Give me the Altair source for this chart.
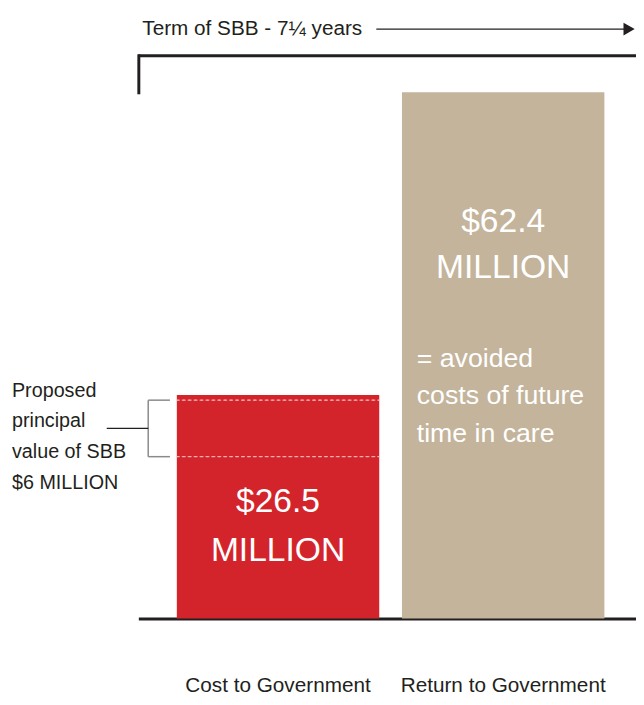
import altair as alt
import pandas as pd

# ---- data ----
categories = ["Cost to Government", "Return to Government"]
values = [26.5, 62.4]
value_labels = ["$26.5", "$62.4"]
unit_label = "MILLION"
bar_colors = ["#D4242B", "#C3B49B"]
principal_levels = [25.9, 19.2]          # dashed band marking the $6M principal
principal_text = ["Proposed", "principal", "value of SBB", "$6 MILLION"]
return_note = ["= avoided", "costs of future", "time in care"]
term_text = "Term of SBB - 7\u00bc years"
y_max = 66.73

DARK = "#231F20"
GRAY = "#8A8A8A"
FONT = "Liberation Sans, Arial, Helvetica, sans-serif"

bars_df = pd.DataFrame({"category": categories, "value": values, "color": bar_colors})
dash_df = pd.DataFrame({"category": [categories[0]] * len(principal_levels), "value": principal_levels})
bracket_df = pd.DataFrame({"value": principal_levels})
span_df = pd.DataFrame({"top": [principal_levels[0]], "bottom": [principal_levels[1]],
                        "mid": [sum(principal_levels) / len(principal_levels)]})
one = pd.DataFrame({"k": [0]})

xscale = alt.Scale(domain=categories, paddingInner=0.1009, paddingOuter=0.1557, align=0.549)
yscale = alt.Scale(domain=[0, y_max], nice=False, zero=True)

x_axis = alt.Axis(title=None, ticks=False, tickSize=0, labelPadding=74,
                  labelBaseline="alphabetic", labelFontSize=21, labelColor=DARK,
                  labelAngle=0, labelLimit=400, labelFont=FONT,
                  domainColor=DARK, domainWidth=3, grid=False)
X = alt.X("category:N", scale=xscale, sort=categories, axis=x_axis)
Y = alt.Y("value:Q", scale=yscale, axis=None)

bars = alt.Chart(bars_df).mark_bar().encode(
    x=X, y=Y, color=alt.Color("color:N", scale=None))

dashes = alt.Chart(dash_df).mark_bar(fillOpacity=0, stroke="#F2B8B8", strokeWidth=1,
                                     strokeDash=[3, 3]).encode(
    x=X, y=Y, y2=alt.Y2("value:Q"))

bracket_ticks = alt.Chart(bracket_df).mark_rule(color=GRAY, strokeWidth=1.5).encode(
    x=alt.value(10), x2=alt.value(32), y=Y)
bracket_vert = alt.Chart(span_df).mark_rule(color=GRAY, strokeWidth=1.5).encode(
    x=alt.value(10), y=alt.Y("top:Q", scale=yscale, axis=None), y2=alt.Y2("bottom:Q"))
connector = alt.Chart(span_df).mark_rule(color=DARK, strokeWidth=1.2).encode(
    x=alt.value(-32), x2=alt.value(10), y=alt.Y("mid:Q", scale=yscale, axis=None))
principal_lbl = alt.Chart(span_df).mark_text(
    text=principal_text, align="left", baseline="alphabetic", fontSize=20, lineHeight=31,
    dy=-32, color=DARK).encode(
    x=alt.value(-128), y=alt.Y("mid:Q", scale=yscale, axis=None))

red_lbl = alt.Chart(bars_df.iloc[[0]]).mark_text(
    text=[value_labels[0], unit_label], color="white", fontSize=34, lineHeight=50,
    baseline="alphabetic", dy=118).encode(x=X, y=Y)
tan_lbl = alt.Chart(bars_df.iloc[[1]]).mark_text(
    text=[value_labels[1], unit_label], color="white", fontSize=34, lineHeight=47,
    baseline="alphabetic", dy=141).encode(x=X, y=Y)
note_lbl = alt.Chart(bars_df.iloc[[1]]).mark_text(
    text=return_note, color="white", fontSize=27, lineHeight=38, align="left",
    baseline="alphabetic", dy=278, dx=15).encode(
    x=alt.X("category:N", scale=xscale, sort=categories, axis=x_axis, bandPosition=0), y=Y)

term = alt.Chart(one).mark_text(text=term_text, align="left", baseline="alphabetic",
                                fontSize=21, color=DARK).encode(
    x=alt.value(4), y=alt.value(-21))
arrow = alt.Chart(one).mark_rule(color=DARK, strokeWidth=1.2).encode(
    x=alt.value(241), x2=alt.value(492), y=alt.value(-27))
head = alt.Chart(one).mark_point(shape="triangle-right", filled=True, size=170,
                                 color=DARK, opacity=1).encode(
    x=alt.value(497), y=alt.value(-27))
top_line = alt.Chart(one).mark_rule(color=DARK, strokeWidth=3).encode(
    x=alt.value(0), x2=alt.value(504), y=alt.value(0))
left_line = alt.Chart(one).mark_rule(color=DARK, strokeWidth=3).encode(
    x=alt.value(0.5), y=alt.value(-1.5), y2=alt.value(39))

chart = alt.layer(
    bars, dashes, bracket_ticks, bracket_vert, connector, principal_lbl,
    red_lbl, tan_lbl, note_lbl, term, arrow, head, top_line, left_line
).properties(
    width=504, height=570,
    padding={"left": 132, "right": 0, "top": 44, "bottom": 75},
    autosize=alt.AutoSizeParams(type="none"),
).configure(font=FONT).configure_view(stroke="transparent")

chart.save("out.html", embed_options={"renderer": "svg", "actions": False})
